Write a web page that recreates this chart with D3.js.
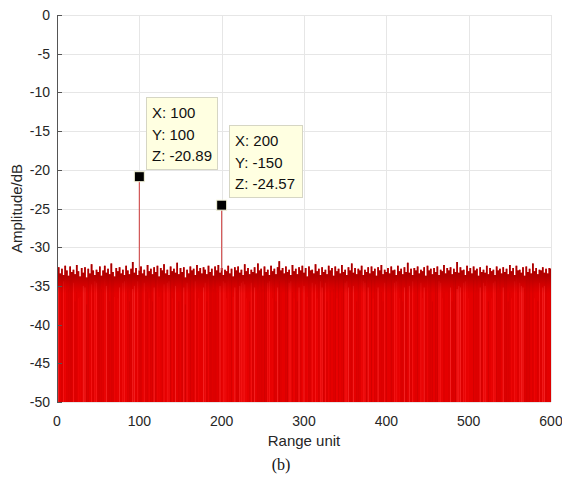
<!DOCTYPE html>
<html><head><meta charset="utf-8">
<script src="https://cdn.jsdelivr.net/npm/d3@7"></script>
<style>body{margin:0;background:#fff}svg{display:block}</style>
</head><body>
<svg id="c" width="562" height="477"></svg>
<script>
// ---- data ----
const xTicks = [0, 100, 200, 300, 400, 500, 600];
const yTicks = [0, -5, -10, -15, -20, -25, -30, -35, -40, -45, -50];
const xStep = 2; // range units between noise samples
const noiseTop = [
-33.1,-32.6,-33.4,-32.8,-33.6,-32.4,-33.0,-33.7,-32.5,-33.2,
-32.9,-33.5,-32.3,-33.1,-33.8,-32.7,-33.3,-32.6,-33.9,-32.8,
-33.4,-32.2,-33.0,-33.6,-32.9,-33.2,-32.5,-33.7,-33.0,-32.4,
-33.3,-32.8,-33.5,-32.1,-33.2,-33.8,-32.7,-33.1,-32.6,-33.4,
-32.9,-33.6,-32.4,-33.0,-33.5,-32.8,-31.9,-33.3,-32.7,-33.6,
-33.0,-32.5,-33.4,-32.9,-33.7,-32.3,-33.1,-32.8,-33.5,-32.6,
-33.2,-32.4,-33.8,-32.7,-33.0,-32.2,-33.4,-32.9,-33.6,-32.5,
-33.1,-32.8,-33.3,-32.0,-33.5,-32.7,-33.2,-32.6,-33.9,-32.9,
-33.4,-32.5,-33.0,-32.8,-33.6,-32.3,-33.1,-32.7,-33.4,-32.6,
-32.9,-33.5,-32.4,-33.2,-32.8,-33.7,-32.5,-33.0,-32.3,-33.3,
-32.7,-33.6,-32.9,-33.1,-32.4,-33.4,-32.8,-33.8,-32.6,-33.0,
-32.5,-33.3,-32.9,-33.6,-32.2,-33.1,-32.7,-33.5,-32.9,-33.2,
-32.6,-33.4,-32.1,-33.0,-32.8,-33.7,-32.5,-33.2,-32.9,-33.6,
-32.4,-33.1,-32.8,-33.5,-32.6,-31.8,-33.0,-32.7,-33.4,-32.5,
-33.2,-32.9,-33.6,-32.3,-33.1,-32.8,-33.5,-32.6,-33.0,-32.4,
-33.3,-32.7,-33.8,-32.5,-33.0,-32.9,-33.4,-32.2,-33.1,-32.8,
-33.6,-32.6,-33.2,-32.9,-33.5,-32.4,-33.0,-32.7,-33.7,-32.5,
-33.1,-32.8,-33.4,-32.3,-33.2,-32.9,-33.6,-32.6,-33.0,-32.1,
-33.3,-32.7,-33.5,-32.8,-33.0,-32.4,-33.6,-32.9,-33.2,-32.6,
-33.4,-32.5,-33.1,-32.8,-33.7,-32.6,-33.0,-32.3,-33.5,-32.9,
-33.2,-32.7,-33.4,-32.5,-33.0,-32.9,-33.6,-32.4,-33.1,-32.8,
-33.5,-32.6,-33.2,-32.0,-33.3,-32.8,-33.6,-32.7,-33.0,-32.5,
-33.4,-32.9,-33.1,-32.6,-33.7,-32.4,-33.0,-32.8,-33.5,-32.7,
-33.2,-32.5,-33.6,-32.9,-33.1,-32.3,-33.4,-32.7,-33.0,-32.6,
-33.5,-32.8,-33.2,-31.9,-33.3,-32.6,-33.0,-32.9,-33.6,-32.4,
-33.1,-32.7,-33.4,-32.5,-33.0,-32.8,-33.7,-32.6,-33.2,-32.9,
-33.3,-32.4,-33.5,-32.7,-33.1,-32.9,-33.6,-32.5,-33.0,-32.8,
-33.4,-32.6,-33.2,-32.8,-33.5,-32.3,-33.1,-32.7,-33.6,-32.4,
-33.0,-32.9,-33.3,-32.6,-33.7,-32.5,-33.2,-32.8,-33.4,-32.1,
-33.1,-32.7,-33.5,-32.9,-33.0,-32.6,-33.3,-32.8,-33.4,-32.7,
-32.8
];
const peakX = [100, 200];
const peakY = [100, -150];
const peakZ = [-20.89, -24.57];

// ---- layout ----
const svg = d3.select("#c");
const m = {l: 57, r: 551, t: 15, b: 402};
const x = d3.scaleLinear().domain([0, 600]).range([m.l, m.r]);
const y = d3.scaleLinear().domain([-50, 0]).range([m.b, m.t]);
const font = "Helvetica, Arial, 'Liberation Sans', sans-serif";

const defs = svg.append("defs");
defs.append("clipPath").attr("id", "plotclip").append("rect")
  .attr("x", m.l).attr("y", m.t).attr("width", m.r - m.l).attr("height", m.b - m.t + 1);
const gr = defs.append("linearGradient").attr("id", "band")
  .attr("gradientUnits", "userSpaceOnUse")
  .attr("x1", 0).attr("x2", 0).attr("y1", y(-32)).attr("y2", y(-36));
gr.append("stop").attr("offset", 0).attr("stop-color", "#990000").attr("stop-opacity", 0.95);
gr.append("stop").attr("offset", 0.45).attr("stop-color", "#a80000").attr("stop-opacity", 0.75);
gr.append("stop").attr("offset", 1).attr("stop-color", "#c00000").attr("stop-opacity", 0);

// grid
const grid = svg.append("g").attr("stroke", "#e6e6e6").attr("stroke-width", 1);
grid.selectAll("line.gx").data(xTicks).join("line")
  .attr("x1", d => Math.round(x(d)) + 0.5).attr("x2", d => Math.round(x(d)) + 0.5)
  .attr("y1", m.t).attr("y2", m.b);
grid.selectAll("line.gy").data(yTicks).join("line")
  .attr("y1", d => Math.round(y(d)) + 0.5).attr("y2", d => Math.round(y(d)) + 0.5)
  .attr("x1", m.l).attr("x2", m.r);

// noise body
const noise = noiseTop.map((v, i) => ({x: i * xStep, v}));
const ng = svg.append("g").attr("clip-path", "url(#plotclip)");
const area = d3.area().x(d => x(d.x)).y0(y(-50)).y1(d => y(d.v)).curve(d3.curveStep);
ng.append("path").datum(noise).attr("d", area).attr("fill", "#e40000");
// streaks, shade picked from the tenths digit of each sample
const palette = ["#ff2424", "#d60000", "#f20808", "#c80000", "#ff3a3a", "#e80000", "#cf0000"];
ng.selectAll("line.s").data(noise).join("line")
  .attr("x1", d => x(d.x)).attr("x2", d => x(d.x))
  .attr("y1", y(-50)).attr("y2", d => y(d.v - 0.8 - (Math.round(-d.v * 10) % 4) * 0.9))
  .attr("stroke", d => palette[Math.round(-d.v * 10) % palette.length])
  .attr("stroke-width", 1).attr("opacity", 0.6);
// dark overlapped band near the noise top
const band = d3.area().x(d => x(d.x)).y0(y(-36)).y1(d => y(d.v)).curve(d3.curveStep);
ng.append("path").datum(noise).attr("d", band).attr("fill", "url(#band)");

// peak stems
const peaks = peakX.map((px, i) => ({x: px, yv: peakY[i], z: peakZ[i]}));
svg.selectAll("line.pk").data(peaks).join("line")
  .attr("x1", d => x(d.x)).attr("x2", d => x(d.x))
  .attr("y1", y(-33)).attr("y2", d => y(d.z))
  .attr("stroke", "#d04848").attr("stroke-width", 1.1);
svg.selectAll("rect.mk").data(peaks).join("rect")
  .attr("x", d => x(d.x) - 5).attr("y", d => y(d.z) - 5)
  .attr("width", 10).attr("height", 10)
  .attr("fill", "#000").attr("stroke", "#f4f4d8").attr("stroke-width", 1);

// data tips
const tipOff = [{dx: 7, dy: -80, w: 71}, {dx: 7, dy: -80, w: 73}];
const tips = svg.selectAll("g.tip").data(peaks).join("g")
  .attr("transform", (d, i) => `translate(${Math.round(x(d.x) + tipOff[i].dx)},${Math.round(y(d.z) + tipOff[i].dy)})`);
tips.append("rect").attr("x", 0.5).attr("y", 0.5)
  .attr("width", (d, i) => tipOff[i].w).attr("height", 72)
  .attr("fill", "#ffffe1").attr("stroke", "#d6d6c4");
tips.each(function(d) {
  const lines = [`X: ${d.x}`, `Y: ${d.yv}`, `Z: ${d.z.toFixed(2)}`];
  d3.select(this).selectAll("text").data(lines).join("text")
    .attr("x", 6).attr("y", (t, j) => 21 + j * 21.5)
    .attr("font-family", font).attr("font-size", 15).attr("fill", "#111")
    .text(t => t);
});

// axes
const axCol = "#262626";
svg.append("line").attr("x1", m.l + 0.5).attr("x2", m.l + 0.5).attr("y1", m.t).attr("y2", m.b)
  .attr("stroke", "#555").attr("stroke-width", 1);
svg.selectAll("line.ty").data(yTicks).join("line")
  .attr("x1", m.l).attr("x2", m.l + 5)
  .attr("y1", d => Math.round(y(d)) + 0.5).attr("y2", d => Math.round(y(d)) + 0.5)
  .attr("stroke", "#555");
svg.selectAll("text.ty").data(yTicks).join("text")
  .attr("x", m.l - 7).attr("y", d => y(d) + 5)
  .attr("text-anchor", "end").attr("font-family", font).attr("font-size", 14).attr("fill", axCol)
  .text(d => d);
svg.selectAll("text.tx").data(xTicks).join("text")
  .attr("x", d => x(d)).attr("y", 426)
  .attr("text-anchor", "middle").attr("font-family", font).attr("font-size", 14).attr("fill", axCol)
  .text(d => d);
svg.append("text").attr("x", (m.l + m.r) / 2).attr("y", 446)
  .attr("text-anchor", "middle").attr("font-family", font).attr("font-size", 15).attr("fill", axCol)
  .text("Range unit");
svg.append("text").attr("transform", `translate(22,${(m.t + m.b) / 2}) rotate(-90)`)
  .attr("text-anchor", "middle").attr("font-family", font).attr("font-size", 15).attr("fill", axCol)
  .text("Amplitude/dB");
svg.append("text").attr("x", 281).attr("y", 470)
  .attr("text-anchor", "middle").attr("font-family", "'Liberation Serif', 'Times New Roman', serif").attr("font-size", 16).attr("fill", "#111")
  .text("(b)");
</script>
</body></html>
